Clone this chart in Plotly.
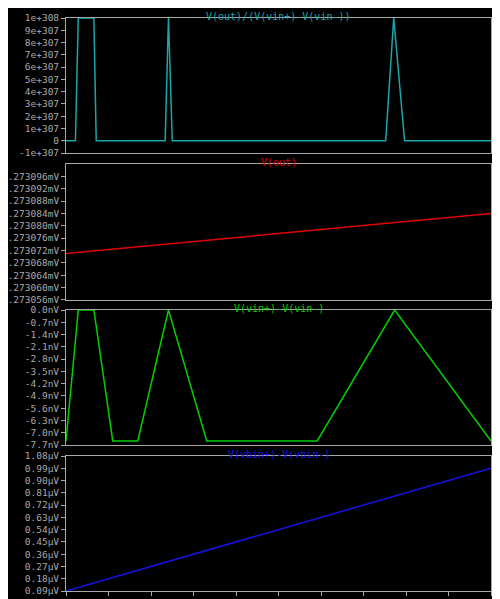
import plotly.graph_objects as go

# time axis (shown as µA by the simulator)
x_ticks = [1.0, 1.9, 2.8, 3.7, 4.6, 5.5, 6.4, 7.3, 8.2, 9.1, 10.0]

# V(out)/(V(vin+)-V(vin-)) in units of 1e307
gain_x = [1.0, 1.2, 1.26, 1.59, 1.64, 3.10, 3.17, 3.25, 7.77, 7.94, 8.17, 10.0]
gain_y = [0, 0, 10, 10, 0, 0, 10, 0, 0, 10, 0, 0]
gain_ticks = [-1, 0, 1, 2, 3, 4, 5, 6, 7, 8, 9, 10]
gain_text = ["-1e+307", "0", "1e+307", "2e+307", "3e+307", "4e+307", "5e+307",
             "6e+307", "7e+307", "8e+307", "9e+307", "1e+308"]

# V(out) in mV
vout_x = [1.0, 10.0]
vout_y = [1.273071, 1.273084]
vout_ticks = [1.273056, 1.273060, 1.273064, 1.273068, 1.273072, 1.273076,
              1.273080, 1.273084, 1.273088, 1.273092, 1.273096]

# V(vin+)-V(vin-) in nV
vin_x = [1.0, 1.26, 1.59, 1.99, 2.52, 3.17, 3.98, 6.32, 7.96, 10.0]
vin_y = [-7.47, 0.0, 0.0, -7.47, -7.47, 0.0, -7.47, -7.47, 0.0, -7.47]
vin_ticks = [0.0, -0.7, -1.4, -2.1, -2.8, -3.5, -4.2, -4.9, -5.6, -6.3, -7.0, -7.7]

# V(vbin+)-V(vbin-) in µV
vbin_x = [1.0, 10.0]
vbin_y = [0.09, 0.99]
vbin_ticks = [0.09, 0.18, 0.27, 0.36, 0.45, 0.54, 0.63, 0.72, 0.81, 0.90, 0.99, 1.08]

GRAY = "#a8a8a8"
FONT = dict(family="DejaVu Sans Mono", size=9.5, color=GRAY)

panels = [
    ("V(out)/(V(vin+)-V(vin-))", "#1aa6a8", gain_x, gain_y, [0.7644, 1.0], [-1, 10],
     gain_ticks, gain_text),
    ("V(out)", "#e00000", vout_x, vout_y, [0.5079, 0.7452], [1.273056, 1.2731],
     vout_ticks, [f"{v:.6f}mV" for v in vout_ticks]),
    ("V(vin+)-V(vin-)", "#00d000", vin_x, vin_y, [0.2548, 0.4904], [-7.7, 0.0],
     vin_ticks, [f"{v:.1f}nV" for v in vin_ticks]),
    ("V(vbin+)-V(vbin-)", "#1414e6", vbin_x, vbin_y, [0.0, 0.2356], [0.09, 1.08],
     vbin_ticks, [f"{v:.2f}µV" for v in vbin_ticks]),
]

fig = go.Figure()
layout = {}
annotations = []
for i, (name, color, xs, ys, dom, rng, tv, tt) in enumerate(panels, start=1):
    sfx = "" if i == 1 else str(i)
    fig.add_trace(go.Scatter(x=xs, y=ys, mode="lines", line=dict(color=color, width=1.5),
                             xaxis="x" + sfx, yaxis="y" + sfx, showlegend=False))
    last = i == len(panels)
    layout["xaxis" + sfx] = dict(
        domain=[0, 1], anchor="y" + sfx, range=[1.0, 10.0], showgrid=False, zeroline=False,
        showline=True, mirror=True, linecolor=GRAY, linewidth=1, automargin=False,
        tickvals=x_ticks, ticktext=[f"{v:.1f}µA" for v in x_ticks],
        showticklabels=last, ticks="outside" if last else "", ticklen=4, tickcolor=GRAY,
        tickfont=FONT,
    )
    layout["yaxis" + sfx] = dict(
        domain=dom, anchor="x" + sfx, range=rng, showgrid=False, zeroline=False,
        showline=True, mirror=True, linecolor=GRAY, linewidth=1, automargin=False,
        tickvals=tv, ticktext=tt, ticks="outside", ticklen=4, tickcolor=GRAY,
        tickfont=FONT,
    )
    annotations.append(dict(text=name, x=0.5, y=dom[1], xref="paper", yref="paper",
                            xanchor="center", yanchor="bottom", yshift=-6, showarrow=False,
                            font=dict(family="DejaVu Sans Mono", size=10, color=color)))

fig.update_layout(
    width=500, height=599,
    margin=dict(l=58, r=17, t=10, b=16),
    paper_bgcolor="black", plot_bgcolor="black",
    annotations=annotations,
    **layout,
)

fig.write_html("out.html")
